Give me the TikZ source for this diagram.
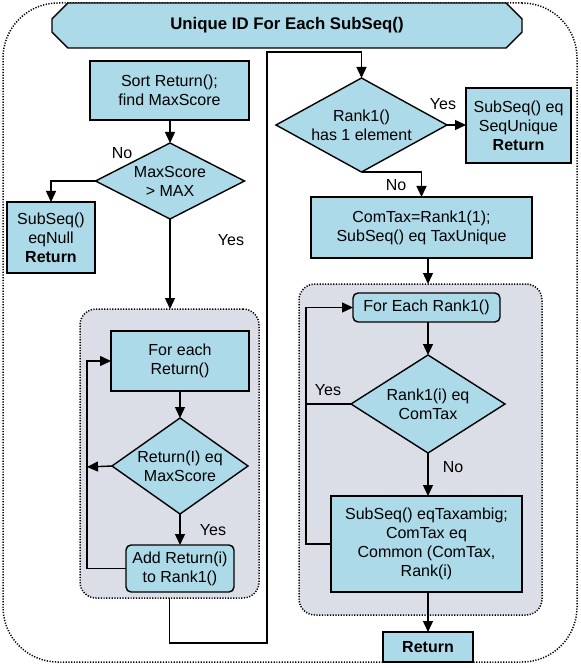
\documentclass[tikz,border=0pt]{standalone}
\usepackage{fontspec}
\setmainfont{Liberation Sans}
\usetikzlibrary{arrows.meta,shapes.geometric,shapes.misc}
\definecolor{boxblue}{RGB}{172,218,232}
\definecolor{contgray}{RGB}{220,222,231}
\newcommand\fs{\fontsize{16}{19}\selectfont}
\begin{document}
\begin{tikzpicture}[x=1pt,y=-1pt,
  box/.style={draw, line width=1.4pt, fill=boxblue, inner sep=1pt, outer sep=0pt, align=center, font=\fs},
  rbox/.style={box, rounded corners=5pt},
  dia/.style={draw, line width=1.4pt, fill=boxblue, diamond, inner sep=0pt, outer sep=0pt},
  dotb/.style={draw, line width=1.5pt, dash pattern=on 1.2pt off 1.5pt},
  cont/.style={dotb, fill=contgray, rounded corners=16pt, inner sep=0pt, outer sep=0pt},
  arr/.style={line width=1.4pt, -{Triangle[length=11pt,width=10pt]}},
  ln/.style={line width=1.4pt},
  lbl/.style={font=\fs, inner sep=0pt},
  dtext/.style={font=\fs, align=center, inner sep=0pt}]
\useasboundingbox (0,0) rectangle (580,668);
% outer border
\node[dotb, rounded corners=55pt, minimum width=574pt, minimum height=659pt, inner sep=0pt] (outer) at (290,332.5) {};
% title
\node[draw, line width=1.4pt, fill=boxblue, chamfered rectangle, chamfered rectangle xsep=8pt, chamfered rectangle ysep=8pt, minimum width=470pt, minimum height=45pt, inner sep=0pt, font=\fontsize{16.8}{20}\selectfont\bfseries] (title) at (287,25.5) {Unique ID For Each SubSeq()};
% containers
\node[cont, minimum width=179pt, minimum height=289pt] (cont1) at (169.5,453.5) {};
\node[cont, minimum width=243pt, minimum height=331pt] (cont2) at (420.5,449.5) {};
% left column
\node[box, minimum width=159pt, minimum height=59pt] (sort) at (169.5,90.5) {Sort Return();\\find MaxScore};
\node[dia, minimum width=149pt, minimum height=76pt] (d1) at (170,181) {};
\node[dtext] (d1t) at (170,181) {MaxScore\\\textgreater{} MAX};
\node[box, minimum width=88pt, minimum height=71pt] (null) at (51,237.5) {SubSeq()\\eqNull\\\textbf{Return}};
\node[box, minimum width=138pt, minimum height=60pt] (fe1) at (180,361) {For each\\Return()};
\node[dia, minimum width=136pt, minimum height=96pt] (d2) at (180,466) {};
\node[dtext] (d2t) at (180,466) {Return(I) eq\\MaxScore};
\node[rbox, minimum width=108pt, minimum height=47pt] (add) at (180,568.5) {Add Return(i)\\to Rank1()};
% right column
\node[dia, minimum width=171pt, minimum height=94pt] (d3) at (361.5,125) {};
\node[dtext] (d3t) at (361.5,125) {Rank1()\\has 1 element};
\node[box, minimum width=105pt, minimum height=75pt] (uniq) at (518.5,125.5) {SubSeq() eq\\SeqUnique\\\textbf{Return}};
\node[box, minimum width=221pt, minimum height=61pt] (comtax) at (421.5,227.5) {ComTax=Rank1(1);\\SubSeq() eq TaxUnique};
\node[rbox, minimum width=147pt, minimum height=29pt] (fe2) at (426.5,307.5) {For Each Rank1()};
\node[dia, minimum width=154pt, minimum height=98pt] (d4) at (428,404) {};
\node[dtext] (d4t) at (428,404) {Rank1(i) eq\\ComTax};
\node[box, minimum width=191pt, minimum height=96pt] (ambig) at (426.5,544) {SubSeq() eqTaxambig;\\ComTax eq\\Common (ComTax,\\Rank(i)};
\node[box, minimum width=90pt, minimum height=30pt, font=\fs\bfseries] (ret) at (428,647) {Return};
% coordinates
\coordinate (l1) at (87,467);
\coordinate (l2) at (306,404);
\coordinate (c1) at (267,643);
\coordinate (c2) at (267,52);
% connectors left
\draw[arr] (sort.south -| d1.north) -- (d1.north);
\draw[arr] (d1.west) -| (null.north);
\draw[arr] (d1.south) -- (cont1.north -| d1.south);
\draw[arr] (fe1.south) -- (d2.north);
\draw[arr] (d2.west) -- (l1);
\draw[arr] (add.west) -| (l1) |- (fe1.west);
\draw[arr] (d2.south) -- (add.north);
\draw[arr] (cont1.south) |- (c1) -- (c2) -| (d3.north);
% connectors right
\draw[arr] (d3.east) -- (uniq.west |- d3.east);
\draw[arr] (d3.south) -| (comtax.north);
\draw[arr] (comtax.south -| d4.north) -- (cont2.north -| d4.north);
\draw[arr] (fe2.south -| d4.north) -- (d4.north);
\draw[ln] (d4.west) -- (l2);
\draw[arr] (ambig.west) -| (l2) |- (fe2.west);
\draw[arr] (d4.south) -- (ambig.north -| d4.south);
\draw[arr] (ambig.south -| ret.north) -- (ret.north);
% labels
\node[lbl] (no1) at (122,153) {No};
\node[lbl] (yes1) at (231,240) {Yes};
\node[lbl] (yes2) at (213,530) {Yes};
\node[lbl] (yes3) at (443,104) {Yes};
\node[lbl] (no3) at (396,185) {No};
\node[lbl] (yes4) at (328,390) {Yes};
\node[lbl] (no4) at (453,467) {No};
\end{tikzpicture}
\end{document}
